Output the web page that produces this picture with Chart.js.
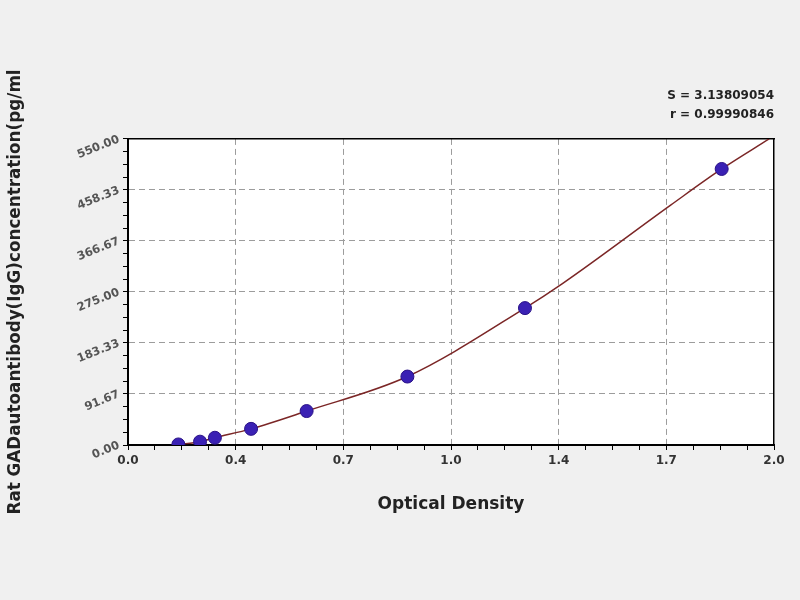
<!DOCTYPE html>
<html>
<head>
<meta charset="utf-8">
<script src="https://cdn.jsdelivr.net/npm/chart.js@4.4.0/dist/chart.umd.min.js"></script>
<style>
  html, body { margin: 0; padding: 0; background: #f0f0f0; }
</style>
</head>
<body>
<canvas id="curveChart" width="800" height="600"></canvas>
<script>
// Standards
const odValues = [0.156, 0.223, 0.269, 0.381, 0.553, 0.865, 1.229, 1.838];
const concValues = [1, 6, 13, 29, 61, 123, 246, 496];

// Fitted curve, points
const fitOD = [0.156, 0.223, 0.269, 0.381, 0.553, 0.865, 1.229, 1.345, 1.68, 1.838, 1.985];
const fitConc = [1, 6, 13, 29, 61, 123, 246, 290, 431, 496, 550];

const xTickLabels = ['0.0', '0.4', '0.7', '1.0', '1.4', '1.7', '2.0'];
const yTickLabels = ['0.00', '91.67', '183.33', '275.00', '366.67', '458.33', '550.00'];
const statLines = ['S = 3.13809054', 'r = 0.99990846'];

const xMax = 2;
const yMax = 550;
const minorPerMajor = 4;
const tickCount = (xTickLabels.length - 1) * minorPerMajor;

// dashed grid only on the inner major ticks
const gridColor = (ctx) => {
    const i = ctx.index;
    return (i % minorPerMajor === 0 && i > 0 && i < tickCount) ? '#9c9c9c' : 'transparent';
};

const whiteArea = {
    id: 'whiteArea',
    beforeDraw(chart) {
        const {ctx, chartArea: a} = chart;
        ctx.save();
        ctx.fillStyle = '#ffffff';
        ctx.fillRect(a.left, a.top, a.right - a.left, a.bottom - a.top);
        ctx.restore();
    }
};

new Chart(document.getElementById('curveChart'), {
    type: 'scatter',
    data: {
        datasets: [
            {
                label: 'Standards',
                data: odValues.map((x, i) => ({x: x, y: concValues[i]})),
                backgroundColor: '#3a21b4',
                borderColor: '#2a1288',
                borderWidth: 1,
                pointRadius: 6.5,
                order: 0
            },
            {
                type: 'line',
                label: 'Fit',
                data: fitOD.map((x, i) => ({x: x, y: fitConc[i]})),
                borderColor: '#7b2626',
                borderWidth: 1.5,
                pointRadius: 0,
                cubicInterpolationMode: 'monotone',
                fill: false,
                order: 1
            }
        ]
    },
    options: {
        responsive: false,
        animation: false,
        layout: {
            padding: {left: 0, right: 26, top: 0, bottom: 55}
        },
        plugins: {
            legend: {display: false},
            tooltip: {enabled: false},
            title: {
                display: true,
                text: statLines,
                align: 'end',
                color: '#222',
                font: {family: 'DejaVu Sans', size: 12, weight: 'bold', lineHeight: 1.58},
                padding: {top: 86, bottom: 15}
            }
        },
        scales: {
            x: {
                type: 'linear',
                position: 'bottom',
                min: 0,
                max: xMax,
                ticks: {
                    stepSize: xMax / tickCount,
                    autoSkip: false,
                    maxRotation: 0,
                    minRotation: 0,
                    padding: 4,
                    color: '#333',
                    font: {family: 'DejaVu Sans', size: 12, weight: 'bold'},
                    callback: (v, i) => i % minorPerMajor === 0 ? xTickLabels[i / minorPerMajor] : ''
                },
                grid: {color: gridColor, tickColor: '#000', tickLength: 5, lineWidth: 1},
                border: {color: '#000', width: 2, dash: [6, 4]},
                title: {
                    display: true,
                    text: 'Optical Density',
                    color: '#222',
                    font: {family: 'DejaVu Sans', size: 17, weight: 'bold'},
                    padding: {top: 0, bottom: 30}
                },
                afterFit: (s) => { s.height = 100; }
            },
            y: {
                type: 'linear',
                position: 'left',
                min: 0,
                max: yMax,
                ticks: {
                    stepSize: yMax / tickCount,
                    autoSkip: false,
                    minRotation: 22,
                    maxRotation: 22,
                    padding: 4,
                    color: '#555',
                    font: {family: 'DejaVu Sans', size: 11.5, weight: 'bold'},
                    callback: (v, i) => i % minorPerMajor === 0 ? yTickLabels[i / minorPerMajor] : ''
                },
                grid: {color: gridColor, tickColor: '#000', tickLength: 5, lineWidth: 1},
                border: {color: '#000', width: 2, dash: [6, 4]},
                title: {
                    display: true,
                    text: 'Rat GADautoantibody(IgG)concentration(pg/ml',
                    color: '#222',
                    font: {family: 'DejaVu Sans', size: 16.8, weight: 'bold'},
                    padding: {top: 6, bottom: 0}
                },
                afterFit: (s) => { s.width = 128; }
            },
            // frame on top and right
            x2: {
                axis: 'x',
                type: 'linear',
                position: 'top',
                min: 0,
                max: xMax,
                ticks: {display: false},
                grid: {display: false},
                border: {color: '#000', width: 1.5},
                afterFit: (s) => { s.height = 0; }
            },
            y2: {
                axis: 'y',
                type: 'linear',
                position: 'right',
                min: 0,
                max: yMax,
                ticks: {display: false},
                grid: {display: false},
                border: {color: '#000', width: 1.5},
                afterFit: (s) => { s.width = 0; }
            }
        }
    },
    plugins: [whiteArea]
});
</script>
</body>
</html>
